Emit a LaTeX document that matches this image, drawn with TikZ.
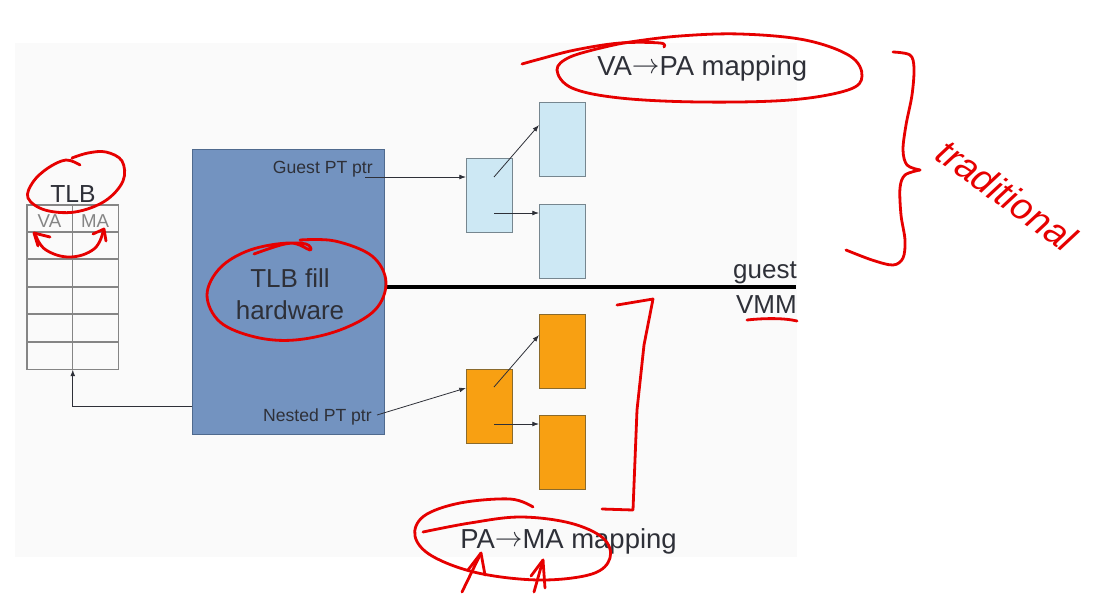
\documentclass[tikz,border=0pt]{standalone}
\usepackage{fontspec}
\setmainfont{Liberation Sans}
\usetikzlibrary{arrows.meta,calc}
\definecolor{txt}{HTML}{2E3038}
\definecolor{slidebg}{HTML}{FAFAFA}
\definecolor{hwfill}{HTML}{7393C0}
\definecolor{hwdraw}{HTML}{4F6A8E}
\definecolor{gfill}{HTML}{CDE8F4}
\definecolor{gdraw}{HTML}{76868F}
\definecolor{ofill}{HTML}{F8A012}
\definecolor{odraw}{HTML}{8A6A2C}
\definecolor{tlbgray}{HTML}{858585}
\definecolor{pen}{HTML}{E60000}
\newcommand\mapto{\raisebox{0.06em}{$\rightarrow$}}
\tikzset{
  pgbox/.style={draw, inner sep=0pt, anchor=north west, line width=0.9pt},
  gbox/.style={pgbox, fill=gfill, draw=gdraw, minimum width=46*0.75pt, minimum height=74*0.75pt},
  obox/.style={pgbox, fill=ofill, draw=odraw, minimum width=46*0.75pt, minimum height=74*0.75pt},
  arr/.style={draw=txt, line width=0.6pt, -{Latex[length=5pt,width=3.6pt]}},
  lbl/.style={inner sep=0pt, text=txt},
  ink/.style={draw=pen, line width=2.1pt, line cap=round, line join=round},
}
\begin{document}
\begin{tikzpicture}[x=0.75pt,y=-0.75pt]
\useasboundingbox (0,0) rectangle (1096,593);
\fill[slidebg] (15,43) rectangle (797,557);

% TLB table
\node[inner sep=0pt, anchor=north west, minimum width=91*0.75pt, minimum height=164*0.75pt] (tlb) at (27,205) {};
\draw[tlbgray, line width=0.9pt] (tlb.north west) rectangle (tlb.south east);
\foreach \yy in {232,259,287,314,342} \draw[tlbgray, line width=0.9pt] (27,\yy) -- (118,\yy);
\draw[tlbgray, line width=0.9pt] (tlb.north) -- (tlb.south);
\node[lbl, anchor=base, font=\fontsize{18.5}{22}\selectfont] (tlbt) at (73,202) {TLB};
\node[inner sep=0pt, anchor=base, text=tlbgray, font=\fontsize{14}{16}\selectfont] (va) at (49.5,227) {VA};
\node[inner sep=0pt, anchor=base, text=tlbgray, font=\fontsize{14}{16}\selectfont] (ma) at (95,227) {MA};

% TLB fill hardware
\node[pgbox, fill=hwfill, draw=hwdraw, minimum width=192*0.75pt, minimum height=285*0.75pt] (hw) at (192,149) {};
\node[lbl, align=center, font=\fontsize{19.5}{24}\selectfont] (hwl) at (290,294) {TLB fill\\hardware};
\node[lbl, anchor=base east, font=\fontsize{13.2}{15}\selectfont] (gptr) at (373,173) {Guest PT ptr};
\node[lbl, anchor=base east, font=\fontsize{13.2}{15}\selectfont] (nptr) at (372,421) {Nested PT ptr};

% guest / VMM line
\coordinate (lineend) at (796,287);
\draw[black, line width=2.4pt] (hw.east |- lineend) -- (lineend);
\node[lbl, anchor=base east, font=\fontsize{19.5}{23}\selectfont] (guest) at (797,278) {guest};
\node[lbl, anchor=base east, font=\fontsize{19.5}{23}\selectfont] (vmm) at (797,313) {VMM};

% guest page tables
\node[gbox] (gs) at (466,158) {};
\node[gbox] (gt) at (539,102) {};
\node[gbox] (gb) at (539,204) {};
% nested page tables
\node[obox] (ns) at (466,369) {};
\node[obox] (nt) at (539,314) {};
\node[obox] (nb) at (539,415) {};

% mapping labels
\node[lbl, anchor=base west, font=\fontsize{20.6}{24}\selectfont] (vapa) at (597,75) {VA\mapto PA mapping};
\node[lbl, anchor=base west, font=\fontsize{20.6}{24}\selectfont] (pama) at (460,548) {PA\mapto MA mapping};

% connectors
\coordinate (gstart) at (365,177);
\coordinate (g1a) at (494,177);
\coordinate (g1b) at (494,213);
\coordinate (nstart) at (377,415);
\coordinate (n1a) at (494,387);
\coordinate (n1b) at (494,424);
\coordinate (tlbrow) at (0,406);
\draw[arr] (gstart) -- (gs.west |- gstart);
\draw[arr] (g1a) -- ($(gt.north west)+(0,23)$);
\draw[arr] (g1b) -- (gb.west |- g1b);
\draw[arr] (nstart) -- ($(ns.north west)+(0,19)$);
\draw[arr] (n1a) -- ($(nt.north west)+(0,21)$);
\draw[arr] (n1b) -- (nb.west |- n1b);
\draw[arr] (hw.west |- tlbrow) -| (tlb.south);

% ---- red handwritten annotations ----
% TLB loop
\draw[ink] plot[smooth, tension=0.6] coordinates {(80,165) (66,160) (48,168) (33,182) (28,198) (45,210) (75,212) (105,201) (123,181) (122,161) (106,152) (88,153) (72,158)};
% VA <-> MA arc
\draw[ink] plot[smooth, tension=0.7] coordinates {(36,236) (46,250) (70,257) (94,249) (103,232)};
\draw[ink] (50,237) -- (34,233) -- (38,246);
\draw[ink] (93,234) -- (104,229) -- (106,241);
% TLB fill hardware loop
\draw[ink] plot[smooth, tension=0.6] coordinates {(254,254) (285,244) (306,244) (310,250) (290,243) (250,250) (220,268) (207,295) (220,322) (255,337) (295,340) (340,330) (375,310) (386,282) (372,256) (335,241) (300,240)};
% VA->PA loop with tail
\draw[ink] plot[smooth, tension=0.6] coordinates {(664,47) (660,43) (620,43) (575,50) (540,59) (522,64)};
\draw[ink] plot[smooth, tension=0.6] coordinates {(605,47) (570,57) (557,70) (572,88) (620,98) (700,102) (790,100) (848,90) (862,76) (850,56) (805,40) (740,34) (680,36) (630,42) (605,47)};
% brace
\draw[ink] plot[smooth, tension=0.55] coordinates {(893,52) (910,55) (914,68) (912,95) (906,125) (903,150) (907,165) (920,170)};
\draw[ink] plot[smooth, tension=0.55] coordinates {(920,170) (905,175) (900,188) (901,215) (905,240) (903,258) (893,265) (872,260) (846,250)};
\node[text=pen, inner sep=0pt, rotate=-36, font=\itshape\fontsize{28}{30}\selectfont] (trad) at (1007,195) {traditional};
% bracket around nested tables
\draw[ink] (617,305) -- (653,299) -- (644,345) -- (637,410) -- (633,510) -- (602,509);
% VMM underline
\draw[ink] (747,320) .. controls (765,318) and (785,318) .. (797,321);
% PA->MA loop
\draw[ink] plot[smooth, tension=0.6] coordinates {(423,532) (470,523) (520,517) (570,523) (603,538) (610,558) (592,574) (540,580) (478,573) (432,556) (415,536) (424,516) (460,503) (510,499) (533,507)};
% little arrows under PA and MA
\draw[ink] (462,592) -- (481,553);
\draw[ink] (468,570) -- (481,553) -- (485,575);
\draw[ink] (534,592) -- (543,560);
\draw[ink] (531,576) -- (543,560) -- (545,588);
\end{tikzpicture}
\end{document}
